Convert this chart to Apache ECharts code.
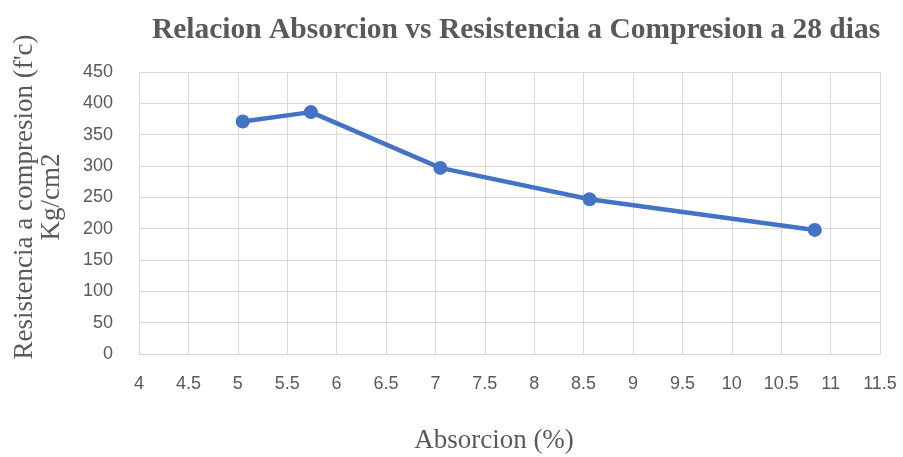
<!DOCTYPE html>
<html>
<head>
<meta charset="utf-8">
<script src="https://cdn.jsdelivr.net/npm/echarts@6/dist/echarts.min.js"></script>
<style>
  html, body { margin: 0; padding: 0; background: #fff; }
  #chart { width: 903px; height: 457px; }
</style>
</head>
<body>
<div id="chart"></div>
<script>
  // datos
  const absorcion = [5.05, 5.74, 7.05, 8.56, 10.84];
  const resistencia = [371, 386, 297, 247, 198];

  const chart = echarts.init(document.getElementById('chart'));
  const serif = '"Liberation Serif", "DejaVu Serif", serif';
  const sans = '"Liberation Sans", Arial, sans-serif';

  const option = {
    backgroundColor: '#fff',
    title: {
      text: 'Relacion Absorcion vs Resistencia a Compresion a 28 dias',
      left: 511,
      textAlign: 'center',
      top: 10,
      textStyle: { fontFamily: serif, fontSize: 29.5, fontWeight: 'bold', color: '#595959' }
    },
    grid: { left: 139, right: 23, top: 72, bottom: 103, outerBoundsMode: 'none' },
    xAxis: {
      type: 'value',
      min: 4,
      max: 11.5,
      interval: 0.5,
      axisLine: { show: true, lineStyle: { color: '#d9d9d9', width: 1 } },
      axisTick: { show: false },
      axisLabel: { fontFamily: sans, fontSize: 18, color: '#595959', margin: 21 },
      splitLine: { show: true, lineStyle: { color: '#d9d9d9', width: 1 } }
    },
    yAxis: {
      type: 'value',
      min: 0,
      max: 450,
      interval: 50,
      axisLine: { show: false },
      axisTick: { show: false },
      axisLabel: { fontFamily: sans, fontSize: 18, color: '#595959', margin: 26 },
      splitLine: { show: true, lineStyle: { color: '#d9d9d9', width: 1 } }
    },
    graphic: [
      {
        type: 'text', x: 494, y: 441,
        style: { text: 'Absorcion (%)', font: '27px ' + serif, fill: '#595959', align: 'center', verticalAlign: 'middle' }
      },
      {
        type: 'text', x: 25, y: 197, rotation: Math.PI / 2,
        style: { text: "Resistencia a compresion (f'c)", font: '27px ' + serif, fill: '#595959', align: 'center', verticalAlign: 'middle' }
      },
      {
        type: 'text', x: 52, y: 197, rotation: Math.PI / 2,
        style: { text: 'Kg/cm2', font: '27px ' + serif, fill: '#595959', align: 'center', verticalAlign: 'middle' }
      }
    ],
    series: [
      {
        type: 'line',
        data: absorcion.map((x, i) => [x, resistencia[i]]),
        symbol: 'circle',
        symbolSize: 14,
        lineStyle: { color: '#4472C4', width: 4.5 },
        itemStyle: { color: '#4472C4' },
        z: 3
      }
    ]
  };
  chart.setOption(option);
</script>
</body>
</html>
